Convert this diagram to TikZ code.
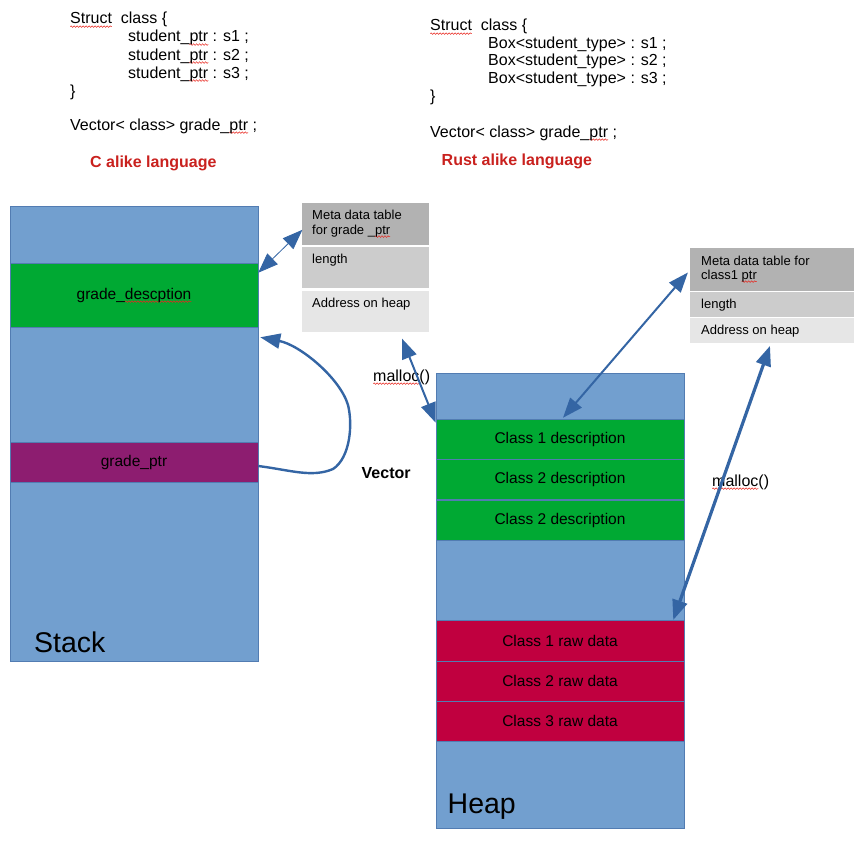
\documentclass[tikz,border=0pt]{standalone}
\usepackage{fontspec}
\setmainfont{Liberation Sans}
\usetikzlibrary{arrows.meta,decorations.pathmorphing}
\definecolor{stackblue}{HTML}{729FCF}
\definecolor{edgeblue}{HTML}{3465A4}
\definecolor{rowgreen}{HTML}{00A933}
\definecolor{rowpurple}{HTML}{8D1D70}
\definecolor{rowred}{HTML}{C0003F}
\definecolor{gA}{HTML}{B2B2B2}
\definecolor{gB}{HTML}{CCCCCC}
\definecolor{gC}{HTML}{E6E6E6}
\definecolor{labred}{HTML}{C9211E}
\definecolor{squig}{HTML}{E8261E}
\newlength\sqlen
\newcommand\sqg[1]{\settowidth\sqlen{#1}\rlap{\tikz[overlay,baseline=0pt]\draw[squig,line width=0.5pt,decorate,decoration={snake,amplitude=0.8pt,segment length=3pt}] (0pt,-2.6pt) -- (\sqlen,-2.6pt);}#1}
\tikzset{
  mem/.style={draw=edgeblue!85,line width=0.5pt,fill=stackblue,inner sep=0pt,minimum width=248pt},
  row/.style={draw=edgeblue!85,line width=0.5pt,inner sep=0pt,minimum width=248pt,font=\fontsize{15.5}{18}\selectfont},
  cell/.style={draw=white,line width=1.2pt,inner sep=0pt},
  code/.style={anchor=base west,inner sep=0pt,font=\fontsize{16}{19}\selectfont},
  small/.style={anchor=base west,inner sep=0pt,font=\fontsize{13}{15}\selectfont},
  big/.style={anchor=base west,inner sep=0pt,font=\fontsize{28.5}{32}\selectfont},
  redlab/.style={anchor=base west,inner sep=0pt,font=\fontsize{16}{19}\selectfont\bfseries,text=labred},
  link/.style={draw=edgeblue,{Triangle[length=20pt,width=15pt]}-{Triangle[length=20pt,width=15pt]}},
}
\begin{document}
\begin{tikzpicture}[x=1pt,y=-1pt]
\useasboundingbox (0,0) rectangle (859,843);
% code, left
\node[code] (l1) at (70,24) {\sqg{Struct}\ \ class \{};
\node[code] (l2) at (128,42) {student\_\sqg{ptr} : s1 ;};
\node[code] (l3) at (128,60) {student\_\sqg{ptr} : s2 ;};
\node[code] (l4) at (128,78) {student\_\sqg{ptr} : s3 ;};
\node[code] (l5) at (70,96) {\}};
\node[code] (l6) at (70,130) {Vector< class> grade\_\sqg{ptr} ;};
\node[redlab] (l7) at (90,167.5) {C alike language};
% code, right
\node[code] (r1t) at (430,31) {\sqg{Struct}\ \ class \{};
\node[code] (r2t) at (488,48.5) {Box<student\_type> : s1 ;};
\node[code] (r3t) at (488,66) {Box<student\_type> : s2 ;};
\node[code] (r4t) at (488,83.5) {Box<student\_type> : s3 ;};
\node[code] (r5t) at (430,101) {\}};
\node[code] (r6t) at (430,137) {Vector< class> grade\_\sqg{ptr} ;};
\node[redlab] (r7t) at (441.5,165.5) {Rust alike language};
% stack
\node[mem,minimum height=455pt] (stack) at (134,433.5) {};
\node[row,fill=rowgreen,minimum height=64pt] (gd) at (134,295) {grade\_\sqg{descption}};
\node[row,fill=rowpurple,minimum height=40pt] (gp) at (134,462) {grade\_ptr};
\node[big] (stacklab) at (34,652) {Stack};
% heap
\node[mem,minimum height=455pt] (heap) at (560,600.5) {};
\node[row,fill=rowgreen,minimum height=40pt] (c1) at (560,439) {Class 1 description};
\node[row,fill=rowgreen,minimum height=40pt] (c2) at (560,479.5) {Class 2 description};
\node[row,fill=rowgreen,minimum height=40pt] (c3) at (560,520) {Class 2 description};
\node[row,fill=rowred,minimum height=40.5pt] (d1) at (560,640.5) {Class 1 raw data};
\node[row,fill=rowred,minimum height=40pt] (d2) at (560,681) {Class 2 raw data};
\node[row,fill=rowred,minimum height=40pt] (d3) at (560,721) {Class 3 raw data};
\node[big] (heaplab) at (447.5,813) {Heap};
% meta table 1
\node[cell,fill=gA,minimum width=129pt,minimum height=43.5pt] (m1h) at (365.5,223.8) {};
\node[cell,fill=gB,minimum width=129pt,minimum height=43pt] (m1l) at (365.5,267.5) {};
\node[cell,fill=gC,minimum width=129pt,minimum height=43pt] (m1a) at (365.5,311.5) {};
\node[small] (m1t1) at (312,219) {Meta data table};
\node[small] (m1t2) at (312,234) {for grade \_\sqg{ptr}};
\node[small] (m1t3) at (312,263) {length};
\node[small] (m1t4) at (312,307) {Address on heap};
% meta table 2
\node[cell,fill=gA,minimum width=165pt,minimum height=44pt] (m2h) at (772,269.5) {};
\node[cell,fill=gB,minimum width=165pt,minimum height=25.5pt] (m2l) at (772,304.5) {};
\node[cell,fill=gC,minimum width=165pt,minimum height=25.5pt] (m2a) at (772,330.5) {};
\node[small] (m2t1) at (701,265.5) {Meta data table for};
\node[small] (m2t2) at (701,279) {class1 \sqg{ptr}};
\node[small] (m2t3) at (701,308.5) {length};
\node[small] (m2t4) at (701,334.5) {Address on heap};
% labels
\node[code] (mal1) at (373,381) {\sqg{malloc}()};
\node[code] (mal2) at (712,486) {\sqg{malloc}()};
\node[code,font=\fontsize{16}{19}\selectfont\bfseries] (vec) at (361.5,478) {Vector};
% connectors
\coordinate (a1s) at ([yshift=-10pt]gd.north east);
\coordinate (a1e) at ([xshift=2pt,yshift=-6pt]m1h.west);
\draw[link,line width=0.8pt] (a1s) -- (a1e);
\coordinate (a3s) at ([xshift=36.5pt,yshift=-5pt]m1a.south);
\coordinate (a3e) at ([yshift=-4pt]c1.north west);
\draw[link,line width=2pt] (a3s) -- (a3e);
\coordinate (a4s) at ([xshift=-1pt,yshift=-3pt]m2h.west);
\coordinate (a4e) at ([xshift=3pt,yshift=1pt]c1.north);
\draw[link,line width=2pt] (a4s) -- (a4e);
\coordinate (a5s) at ([xshift=-2pt,yshift=-2pt]m2a.south);
\coordinate (a5e) at ([xshift=-11pt]d1.north east);
\draw[link,line width=3.2pt] (a5s) -- (a5e);
\coordinate (a2s) at ([yshift=-4pt]gp.east);
\coordinate (a2e) at ([xshift=2pt,yshift=-10pt]gd.south east);
\draw[draw=edgeblue,line width=2.4pt,-{Triangle[length=20pt,width=15pt]}]
  (a2s) .. controls (290,470) and (312,478) .. (333,469)
  .. controls (350,458) and (353,425) .. (348,405)
  .. controls (340,378) and (300,345) .. (a2e);
\end{tikzpicture}
\end{document}
